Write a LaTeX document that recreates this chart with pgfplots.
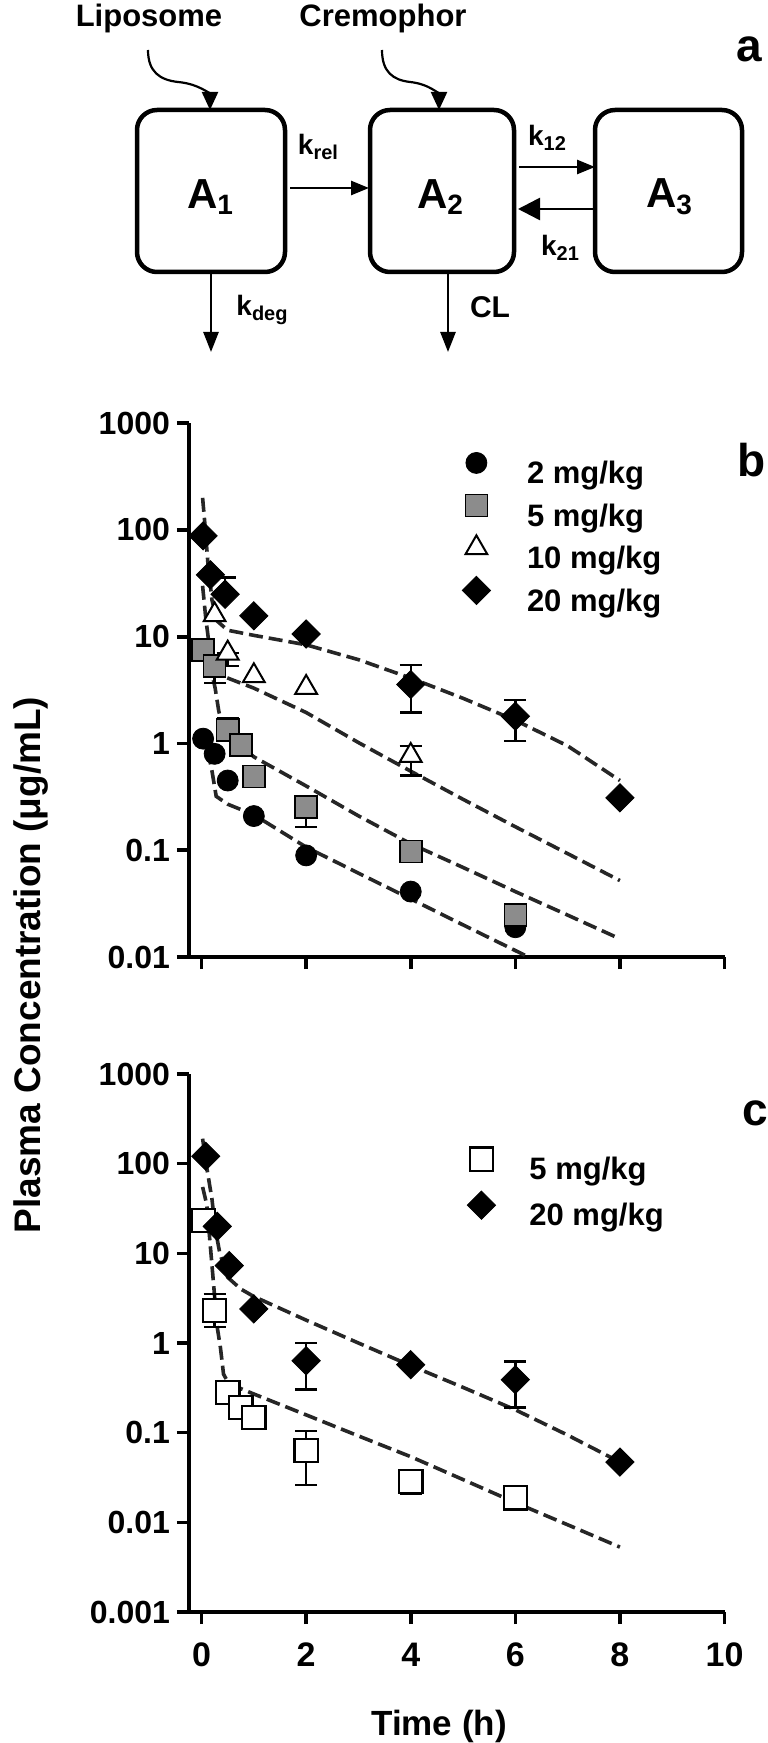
\documentclass[border=0pt]{standalone}
\usepackage{pgfplots}
\pgfplotsset{compat=1.18}
\usepackage{fontspec}
\setmainfont{Liberation Sans}
\usetikzlibrary{arrows.meta}
\newcommand\fs[1]{\fontsize{#1}{#1}\selectfont\bfseries}
\newcommand\sub[2]{\raisebox{-0.3ex}{\fontsize{#1}{#1}\selectfont #2}}

\pgfplotsset{
  fitline/.style={black!85, line width=1.8pt, dash pattern=on 7pt off 3pt, forget plot},
  ebar/.style={only marks, mark=none, forget plot,
    error bars/y dir=both, error bars/y explicit,
    error bars/error bar style={line width=1.2pt, black},
    error bars/error mark options={rotate=90, mark size=5.5pt, line width=1.2pt, black}},
  mtwo/.style={only marks, mark=*, mark size=5.25pt, black, fill=black},
  mfive/.style={only marks, mark=square*, mark size=5.5pt, mark options={draw=black, fill=black!45, line width=0.8pt}},
  mten/.style={only marks, mark=triangle*, mark size=6.3pt, mark options={draw=black, fill=white, line width=1pt}},
  mtwenty/.style={only marks, mark=square*, mark size=5pt, mark options={rotate=45, draw=black, fill=black}},
  mfiveo/.style={only marks, mark=square*, mark size=5.8pt, mark options={draw=black, fill=white, line width=1.2pt}},
}

\begin{document}
\begin{tikzpicture}
\path[use as bounding box] (0pt,0pt) rectangle (383.5pt,-871.5pt);

% ---------- panel a: compartment diagram ----------
\begin{scope}[x=0.5pt,y=-0.5pt]
  \draw[line width=2.25pt, rounded corners=10pt] (137,110) rectangle (285,272);
  \draw[line width=2.25pt, rounded corners=10pt] (370,110) rectangle (514,272);
  \draw[line width=2.25pt, rounded corners=10pt] (595,110) rectangle (742,272);
  \node[font=\fs{21}] at (210,197) {A\sub{14}{1}};
  \node[font=\fs{21}] at (440,197) {A\sub{14}{2}};
  \node[font=\fs{21}] at (669,197) {A\sub{14}{3}};
  \node[font=\fs{15.5}, anchor=base] at (149,27) {Liposome};
  \node[font=\fs{15.5}, anchor=base] at (383,27) {Cremophor};
  \draw[line width=1.1pt, -{Triangle[length=9pt,width=8pt]}] (148,50) .. controls (148,72) and (160,80) .. (178,82) .. controls (200,84) and (210,95) .. (210,110);
  \draw[line width=1.1pt, -{Triangle[length=9pt,width=8pt]}] (382,50) .. controls (382,72) and (393,80) .. (410,82) .. controls (430,84) and (439,95) .. (439,110);
  \draw[line width=1.3pt, -{Triangle[length=9pt,width=7pt]}] (290,188) -- (369,188);
  \draw[line width=1.3pt, -{Triangle[length=9pt,width=7pt]}] (519,167) -- (595,167);
  \draw[line width=1.3pt, -{Triangle[length=11pt,width=11pt]}] (595,209) -- (518,209);
  \draw[line width=1.3pt, -{Triangle[length=10pt,width=7.5pt]}] (211,272) -- (211,352);
  \draw[line width=1.3pt, -{Triangle[length=10pt,width=7.5pt]}] (448,272) -- (448,352);
  \node[font=\fs{14}] at (318,147) {k\sub{10}{rel}};
  \node[font=\fs{14}] at (547,138) {k\sub{10}{12}};
  \node[font=\fs{14}] at (560,248) {k\sub{10}{21}};
  \node[font=\fs{14}] at (262,310) {k\sub{10}{deg}};
  \node[font=\fs{15}] at (490,307) {CL};
\end{scope}
\node[anchor=base, font=\fs{23}] at (374.5pt,-31pt) {a};
\node[anchor=base, font=\fs{23}] at (375.75pt,-238pt) {b};
\node[anchor=base, font=\fs{23}] at (377.5pt,-562.8pt) {c};
\node[rotate=90, font=\fs{18.5}] at (15.5pt,-482.5pt) {Plasma Concentration (μg/mL)};
\node[font=\fs{17.5}] at (219.5pt,-863pt) {Time (h)};

% ---------- panel b ----------
\begin{axis}[scale only axis, anchor=south west, ymode=log,
  at={(94.5pt,-478.5pt)}, width=267.75pt, height=266.9pt,
  xmin=-0.24, xmax=10, ymin=0.01, ymax=1000,
  axis lines=left, axis line style={-, line width=2.2pt, black},
  tick align=outside, major tick length=6pt,
  tick style={line width=1.8pt, black},
  yminorticks=false, xminorticks=false, clip=false,
  xtick={0,2,4,6,8,10}, xticklabels={},
  ytick={0.01,0.1,1,10,100,1000}, yticklabels={0.01,0.1,1,10,100,1000},
  yticklabel style={font=\fs{16}},
  legend cell align=left,
  legend image code/.code={\path[draw=none,fill=none] (0pt,0pt) -- (20pt,0pt); \draw[#1] plot coordinates {(10pt,5.5pt)};},
  legend style={draw=none, fill=none, at={(0.4986,0.946)}, anchor=north west,
    font=\fs{15.5}, row sep={21.25pt,between origins}, column sep=13.3pt, inner sep=0pt}]
  % model fits
  \addplot[fitline] coordinates {(0.02,200) (0.06,120) (0.12,50) (0.2,22) (0.3,14) (0.5,11.5) (1,10.3) (2,8.4) (3,6.1) (4,4.1) (5,2.65) (6,1.65) (7,0.95) (8,0.45)};
  \addplot[fitline] coordinates {(0.02,30) (0.08,15) (0.15,8) (0.25,5) (0.35,4.4) (0.5,4.1) (1,3.3) (2,1.95) (3,1.02) (4,0.55) (5,0.3) (6,0.166) (7,0.093) (8,0.052)};
  \addplot[fitline] coordinates {(0.02,9) (0.1,6.5) (0.2,4.5) (0.26,3.3) (0.33,2.0) (0.4,1.5) (0.5,1.25) (0.75,0.95) (1,0.75) (2,0.4) (3,0.21) (4,0.115) (5,0.069) (6,0.041) (7,0.0247) (8,0.0148)};
  \addplot[fitline] coordinates {(0.02,1.3) (0.1,0.95) (0.2,0.55) (0.28,0.32) (0.5,0.27) (1,0.215) (2,0.107) (3,0.061) (4,0.035) (5,0.02) (6,0.0115) (6.25,0.01)};
  % error bars
  \addplot[ebar] coordinates {
    (0.45,25) += (0,11) -= (0,0)
    (4,3.57) += (0,1.89) -= (0,1.62)
    (6,1.8) += (0,0.75) -= (0,0.74)
    (4,0.77) += (0,0.18) -= (0,0.27)
    (0.5,7.0) += (0,0) -= (0,1.7)
    (0.25,5.3) += (0,0) -= (0,1.6)
    (0.5,1.34) += (0,0.38) -= (0,0)
    (2,0.253) += (0,0.07) -= (0,0.087)
  };
  % data
  \addplot[mtwo] coordinates {(0.03,1.11) (0.25,0.8) (0.5,0.45) (1,0.209) (2,0.0895) (4,0.041) (6,0.019)};
  \addlegendentry{2 mg/kg}
  \addplot[mfive] coordinates {(0.03,7.5) (0.25,5.3) (0.5,1.34) (0.75,0.97) (1,0.49) (2,0.253) (4,0.0975) (6,0.0246)};
  \addlegendentry{5 mg/kg}
  \addplot[mten] coordinates {(0.25,16) (0.5,7.0) (1,4.3) (2,3.34) (4,0.77)};
  \addlegendentry{10 mg/kg}
  \addplot[mtwenty] coordinates {(0.03,88) (0.17,38) (0.45,25) (1,15.7) (2,10.6) (4,3.57) (6,1.8) (8,0.31)};
  \addlegendentry{20 mg/kg}
\end{axis}

% ---------- panel c ----------
\begin{axis}[scale only axis, anchor=south west, ymode=log,
  at={(94.5pt,-806pt)}, width=267.75pt, height=269pt,
  xmin=-0.24, xmax=10, ymin=0.001, ymax=1000,
  axis lines=left, axis line style={-, line width=2.2pt, black},
  tick align=outside, major tick length=6pt,
  tick style={line width=1.8pt, black},
  yminorticks=false, xminorticks=false, clip=false,
  xtick={0,2,4,6,8,10}, xticklabels={0,2,4,6,8,10},
  ytick={0.001,0.01,0.1,1,10,100,1000}, yticklabels={0.001,0.01,0.1,1,10,100,1000},
  yticklabel style={font=\fs{16}}, xticklabel style={font=\fs{17}, yshift=-6pt},
  legend cell align=left,
  legend image code/.code={\path[draw=none,fill=none] (0pt,0pt) -- (20pt,0pt); \draw[#1] plot coordinates {(10pt,5.5pt)};},
  legend style={draw=none, fill=none, at={(0.508,0.864)}, anchor=north west,
    font=\fs{15.5}, row sep={23pt,between origins}, column sep=12pt, inner sep=0pt}]
  \addplot[fitline] coordinates {(0.02,190) (0.1,90) (0.2,40) (0.26,19) (0.35,10) (0.5,5.4) (0.75,4.0) (1,3.3) (2,1.8) (3,1.0) (4,0.56) (5,0.32) (6,0.18) (7,0.094) (8,0.047)};
  \addplot[fitline] coordinates {(0.02,55) (0.1,35) (0.18,10) (0.25,3.3) (0.3,1.5) (0.36,0.9) (0.42,0.45) (0.5,0.37) (0.75,0.31) (1,0.27) (2,0.158) (3,0.092) (4,0.054) (5,0.03) (6,0.0166) (7,0.0094) (8,0.0053)};
  \addplot[ebar] coordinates {
    (0.25,2.3) += (0,1.2) -= (0,0.8)
    (0.5,0.28) += (0,0) -= (0,0.05)
    (2,0.063) += (0,0.042) -= (0,0.037)
    (4,0.0286) += (0,0.008) -= (0,0.0076)
    (2,0.634) += (0,0.37) -= (0,0.33)
    (6,0.39) += (0,0.23) -= (0,0.2)
  };
  \addplot[mfiveo] coordinates {(0.03,23.3) (0.25,2.3) (0.5,0.28) (0.75,0.19) (1,0.148) (2,0.063) (4,0.0286) (6,0.0188)};
  \addlegendentry{5 mg/kg}
  \addplot[mtwenty] coordinates {(0.08,121) (0.3,20) (0.53,7.3) (1,2.4) (2,0.634) (4,0.573) (6,0.39) (8,0.047)};
  \addlegendentry{20 mg/kg}
\end{axis}
\end{tikzpicture}
\end{document}
